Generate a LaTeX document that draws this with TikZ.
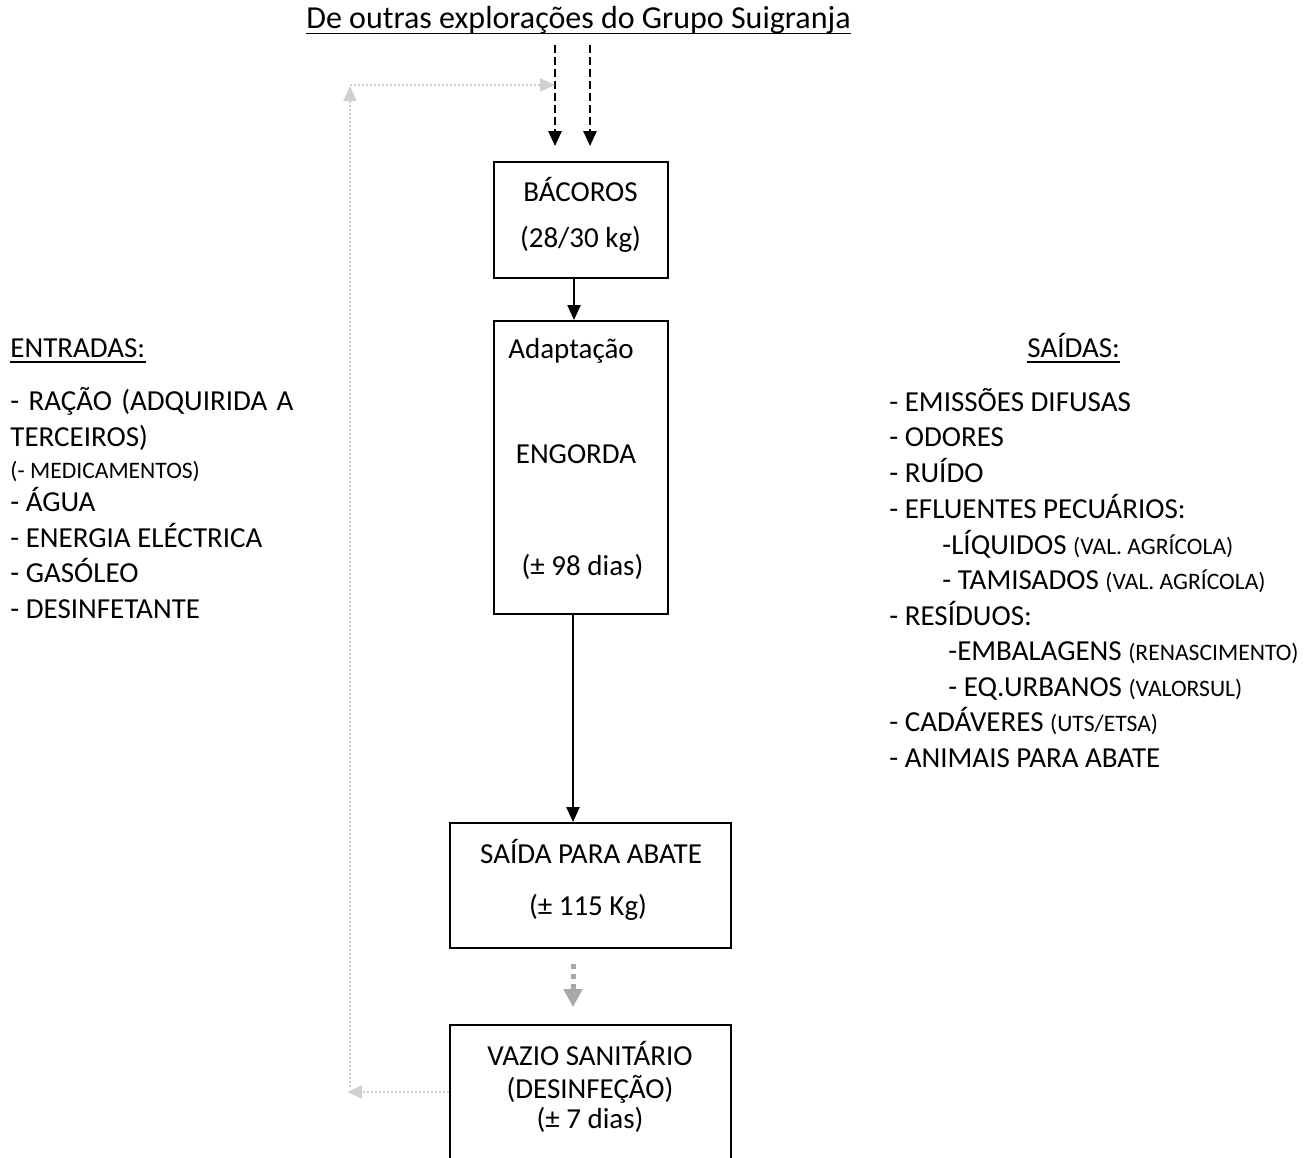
\documentclass[tikz,border=0pt]{standalone}
\usepackage{fontspec}
\setmainfont{Carlito}
\usetikzlibrary{arrows.meta}

\definecolor{cinzaclaro}{RGB}{208,208,208}
\definecolor{cinza}{RGB}{168,168,168}

\newcommand{\pq}[1]{{\fontsize{11.8}{14}\selectfont #1}}

\tikzset{
	texto/.style={anchor=base west, inner sep=0pt, font=\fontsize{14.5}{17}\selectfont},
	textoc/.style={anchor=base, inner sep=0pt, font=\fontsize{14.5}{17}\selectfont},
	caixa/.style={draw, line width=0.9pt, inner sep=0pt},
	seta/.style={-{Triangle[width=6.5pt,length=7.5pt]}, line width=1pt},
	setatrac/.style={seta, line width=1.2pt, dash pattern=on 4pt off 2pt},
	setaponto/.style={-{Triangle[width=6.5pt,length=7.5pt]}, cinzaclaro, line width=1pt, dash pattern=on 1pt off 1pt},
	setacinza/.style={-{Triangle[width=9pt,length=9pt]}, cinza, line width=2.5pt, dash pattern=on 2.5pt off 2.5pt}
}

\begin{document}
\begin{tikzpicture}[x=0.5pt, y=-0.5pt]
	\useasboundingbox (0,0) rectangle (1309,1157);
	\clip (0,0) rectangle (1309,1157);

	% titulo
	\node[textoc, font=\fontsize{16}{19}\selectfont] (titulo) at (578.5,28) {De outras explorações do Grupo Suigranja};
	\draw[line width=0.9pt] ([yshift=-2.7pt]titulo.base west) -- ([yshift=-2.7pt]titulo.base east);

	% caixas
	\node[caixa, minimum width=87pt, minimum height=58pt] (bacoros) at (581,220) {};
	\node[caixa, minimum width=87pt, minimum height=146.5pt] (engorda) at (581,467.5) {};
	\node[caixa, minimum width=140.5pt, minimum height=62.5pt] (saida) at (590.5,885.5) {};
	\node[caixa, minimum width=140.5pt, minimum height=80pt] (vazio) at (590.5,1105) {};

	\node[textoc] (t1) at (580.5,201) {BÁCOROS};
	\node[textoc] (t2) at (580.5,247) {(28/30 kg)};
	\node[textoc] (t3) at (571,358) {Adaptação};
	\node[textoc] (t4) at (576,463) {ENGORDA};
	\node[textoc] (t5) at (582.5,575) {(± 98 dias)};
	\node[textoc] (t6) at (591,863) {SAÍDA PARA ABATE};
	\node[textoc] (t7) at (588,915) {(± 115 Kg)};
	\node[textoc] (t8) at (590,1065) {VAZIO SANITÁRIO};
	\node[textoc] (t9) at (590,1098) {(DESINFEÇÃO)};
	\node[textoc] (t10) at (590,1128) {(± 7 dias)};

	% setas
	\coordinate (topo1) at (555,45);
	\coordinate (topo2) at (590,45);
	\draw[setatrac] (topo1) -- ([xshift=-13pt,yshift=7.5pt]bacoros.north);
	\draw[setatrac] (topo2) -- ([xshift=4.5pt,yshift=7.5pt]bacoros.north);
	\draw[seta] ([xshift=-3.5pt]bacoros.south) -- ([xshift=-3.5pt]engorda.north);
	\draw[seta] ([xshift=-4pt]engorda.south) -- ([xshift=-4pt]engorda.south |- saida.north);
	\draw[setacinza] ([xshift=-8.75pt,yshift=-7.5pt]saida.south) -- ([xshift=-8.75pt,yshift=8.5pt]vazio.north);

	% ciclo
	\coordinate (canto1) at (347,1092);
	\coordinate (canto2) at (350,1087);
	\coordinate (canto3) at (350,86);
	\coordinate (canto4) at (350,85);
	\draw[setaponto] ([yshift=6.5pt]vazio.west) -- (canto1);
	\draw[setaponto] (canto2) -- (canto3);
	\draw[setaponto] (canto4) -- (topo1 |- canto4);

	% entradas
	\node[texto] (ent) at (10,357) {ENTRADAS:};
	\draw[line width=0.8pt] ([yshift=-2.5pt]ent.base west) -- ([yshift=-2.5pt]ent.base east);
	\node[texto] (e1) at (10,410) {\makebox[141.5pt][s]{- RAÇÃO (ADQUIRIDA A}};
	\node[texto] (e2) at (10,446) {TERCEIROS)};
	\node[texto] (e3) at (10,478) {\pq{(- MEDICAMENTOS)}};
	\node[texto] (e4) at (10,511) {- ÁGUA};
	\node[texto] (e5) at (10,547) {- ENERGIA ELÉCTRICA};
	\node[texto] (e6) at (10,582) {- GASÓLEO};
	\node[texto] (e7) at (10,618) {- DESINFETANTE};

	% saidas
	\node[texto] (sai) at (1027,357) {SAÍDAS:};
	\draw[line width=0.8pt] ([yshift=-2.5pt]sai.base west) -- ([yshift=-2.5pt]sai.base east);
	\node[texto] (s1) at (889,411) {- EMISSÕES DIFUSAS};
	\node[texto] (s2) at (889,446) {- ODORES};
	\node[texto] (s3) at (889,482) {- RUÍDO};
	\node[texto] (s4) at (889,518) {- EFLUENTES PECUÁRIOS:};
	\node[texto] (s5) at (942,554) {-LÍQUIDOS \pq{(VAL. AGRÍCOLA)}};
	\node[texto] (s6) at (942,589) {- TAMISADOS \pq{(VAL. AGRÍCOLA)}};
	\node[texto] (s7) at (889,625) {- RESÍDUOS:};
	\node[texto] (s8) at (948,660) {-EMBALAGENS \pq{(RENASCIMENTO)}};
	\node[texto] (s9) at (948,696) {- EQ.URBANOS \pq{(VALORSUL)}};
	\node[texto] (s10) at (889,731) {- CADÁVERES \pq{(UTS/ETSA)}};
	\node[texto] (s11) at (889,767) {- ANIMAIS PARA ABATE};
\end{tikzpicture}
\end{document}
